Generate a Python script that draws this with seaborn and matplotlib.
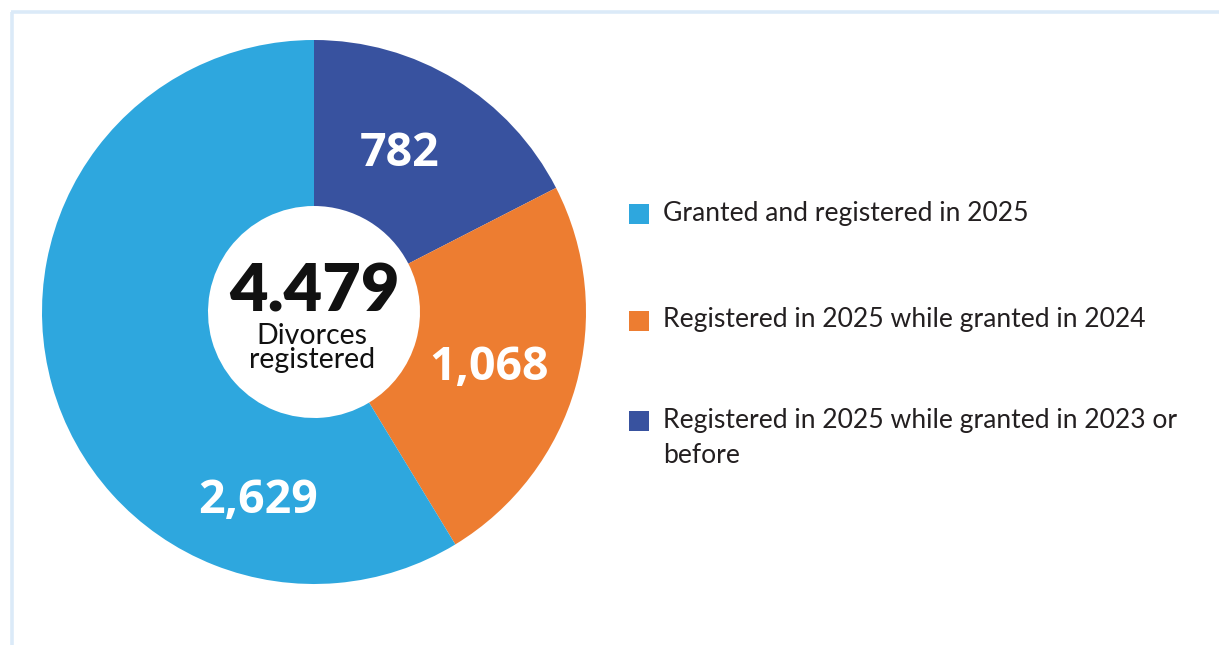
import matplotlib
matplotlib.use("Agg")
import matplotlib.pyplot as plt
from matplotlib.patches import Rectangle
import numpy as np
import seaborn as sns

# Divorces registered in 2025, split by year the divorce was granted
categories = [
    "Registered in 2025 while granted in 2023 or\nbefore",
    "Registered in 2025 while granted in 2024",
    "Granted and registered in 2025",
]
values = [782, 1068, 2629]
value_labels = ["782", "1,068", "2,629"]
total_label = "4.479"
center_caption = "Divorces\nregistered"
legend_order = [2, 1, 0]

colors = ["#38529F", "#ED7D31", "#2EA7DE"]

sns.set_theme(style="white")
plt.rcParams["font.family"] = ["Lato", "DejaVu Sans"]

W, H = 1219, 645
fig = plt.figure(figsize=(W / 100, H / 100), dpi=100)
ax = fig.add_axes([0, 0, 1, 1])

# panel frame (top and left edges)
frame = "#DBEAF8"
ax.plot([11, W], [H - 11.5, H - 11.5], color=frame, lw=2.6, solid_capstyle="butt")
ax.plot([11.5, 11.5], [0, H - 11.5], color=frame, lw=2.6, solid_capstyle="butt")

cx, cy, r_out, r_in = 314, H - 312, 272, 106
ax.pie(
    values, colors=colors, startangle=90, counterclock=False,
    center=(cx, cy), radius=r_out, frame=True,
    wedgeprops=dict(width=r_out - r_in, linewidth=0),
)
ax.set_xlim(0, W)
ax.set_ylim(0, H)
ax.set_aspect("equal")
ax.axis("off")

# value labels inside the ring (angle measured clockwise from the top)
label_angle = [28.5, 107.7, 196.5]
label_radius = [180, 184, 197]
for lab, a, rr in zip(value_labels, label_angle, label_radius):
    t = np.deg2rad(90 - a)
    ax.text(cx + rr * np.cos(t), cy + rr * np.sin(t), lab,
            ha="center", va="center", color="white", fontsize=33.5,
            fontweight="bold", family=["Open Sans", "DejaVu Sans"])

# centre total
ax.text(cx, H - 292, total_label, ha="center", va="center", fontsize=48,
        fontweight="heavy", color="#111111")
ax.text(cx - 2, H - 348, center_caption, ha="center", va="center", fontsize=20.5,
        color="#111111", linespacing=0.92)

# legend
square_y = [214, 321, 421]
baseline_y = [221, 327, 428]
line_gap = 35
for i, sy, by in zip(legend_order, square_y, baseline_y):
    ax.add_patch(Rectangle((629, H - sy - 10), 20, 20, color=colors[i], lw=0))
    for k, line in enumerate(categories[i].split("\n")):
        ax.text(663, H - by - k * line_gap, line, ha="left", va="baseline",
                fontsize=19.1, color="#231F20")

fig.savefig("out.png", dpi=100, facecolor="white")
